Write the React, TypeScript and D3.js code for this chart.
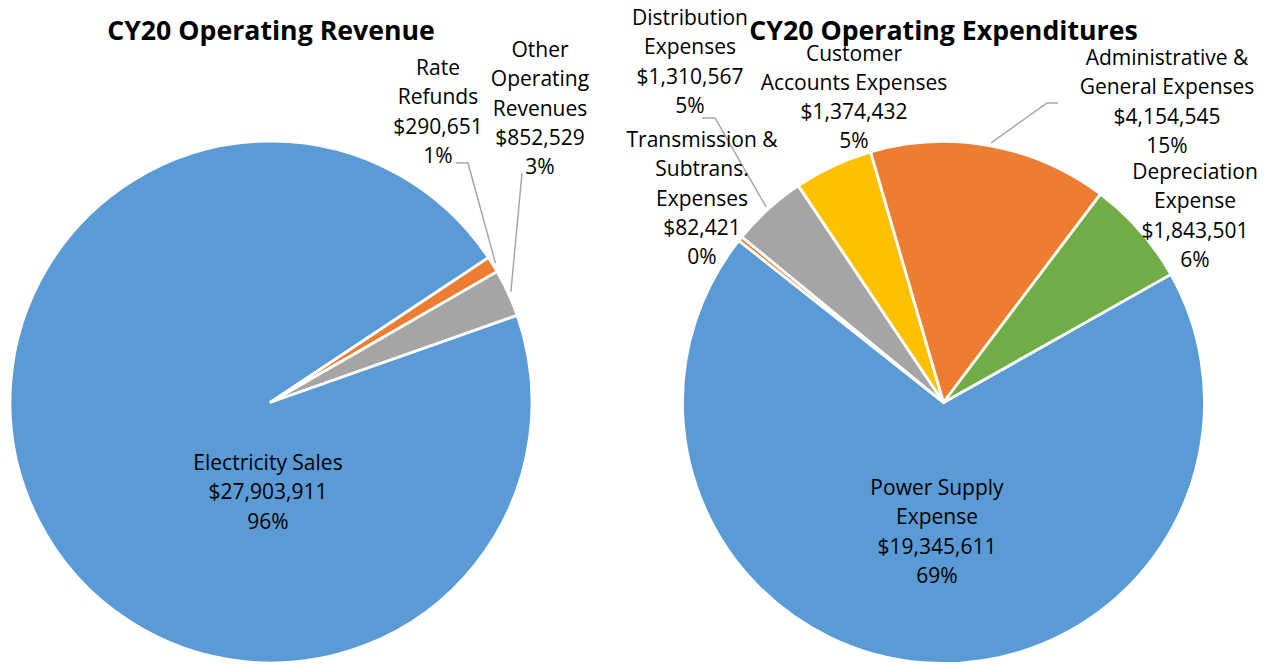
import React from "react";
import * as d3 from "d3";

// ---- Data ----
const revenueCategories = ["Electricity Sales", "Rate\nRefunds", "Other\nOperating\nRevenues"];
const revenueValues = [27903911, 290651, 852529];
const revenuePercents = ["96%", "1%", "3%"];
const revenueColors = ["#5B9BD5", "#ED7D31", "#A5A5A5"];

const expenseCategories = [
  "Power Supply\nExpense",
  "Transmission &\nSubtrans.\nExpenses",
  "Distribution\nExpenses",
  "Customer\nAccounts Expenses",
  "Administrative &\nGeneral Expenses",
  "Depreciation\nExpense",
];
const expenseValues = [19345611, 82421, 1310567, 1374432, 4154545, 1843501];
const expensePercents = ["69%", "0%", "5%", "5%", "15%", "6%"];
const expenseColors = ["#5B9BD5", "#ED7D31", "#A5A5A5", "#FFC000", "#ED7D31", "#70AD47"];

// ---- Layout ----
const W = 1271;
const H = 664;
const R = 261;
const LINE_H = 29.3;
const FONT = "'Open Sans', 'Liberation Sans', sans-serif";

type LabelPos = { x: number; y: number; leader?: [number, number][] };

const revenueLayout = {
  title: "CY20 Operating Revenue",
  cx: 271,
  cy: 402,
  startDeg: 70.6,
  labels: [
    { x: 268, y: 470 },
    { x: 438, y: 75, leader: [[456, 163], [468, 163]] },
    { x: 540, y: 57, leader: [[522, 173]] },
  ] as LabelPos[],
};

const expenseLayout = {
  title: "CY20 Operating Expenditures",
  cx: 943.5,
  cy: 402.5,
  startDeg: 60.6,
  labels: [
    { x: 937, y: 495 },
    { x: 702, y: 147 },
    { x: 690, y: 25, leader: [[702, 118], [715, 118]] },
    { x: 854, y: 60.5 },
    { x: 1167, y: 65, leader: [[1058, 103], [1047, 103]] },
    { x: 1195, y: 179 },
  ] as LabelPos[],
};

const money = d3.format("$,");

function Pie({
  layout,
  categories,
  values,
  percents,
  colors,
}: {
  layout: typeof revenueLayout;
  categories: string[];
  values: number[];
  percents: string[];
  colors: string[];
}) {
  const start = (layout.startDeg * Math.PI) / 180;
  const pie = d3
    .pie<number>()
    .sort(null)
    .value((d) => d)
    .startAngle(start)
    .endAngle(start + 2 * Math.PI);
  const arcs = pie(values);
  const arcGen = d3.arc<d3.PieArcDatum<number>>().innerRadius(0).outerRadius(R);

  return (
    <g>
      <text
        x={layout.cx}
        y={40}
        textAnchor="middle"
        fontFamily={FONT}
        fontWeight="bold"
        fontSize={26.7}
        fill="#000"
      >
        {layout.title}
      </text>
      <g transform={`translate(${layout.cx},${layout.cy})`}>
        {arcs.map((a, i) => (
          <path
            key={i}
            d={arcGen(a) || ""}
            fill={colors[i]}
            stroke="#fff"
            strokeWidth={2.8}
            strokeLinejoin="round"
          />
        ))}
      </g>
      {arcs.map((a, i) => {
        const lp = layout.labels[i];
        if (!lp.leader) return null;
        const mid = (a.startAngle + a.endAngle) / 2;
        const end: [number, number] = [
          layout.cx + (R + 3) * Math.sin(mid),
          layout.cy - (R + 3) * Math.cos(mid),
        ];
        const pts = [...lp.leader, end];
        return (
          <polyline
            key={"l" + i}
            points={pts.map((p) => p.join(",")).join(" ")}
            fill="none"
            stroke="#A6A6A6"
            strokeWidth={1.5}
          />
        );
      })}
      {arcs.map((a, i) => {
        const lp = layout.labels[i];
        const lines = [...categories[i].split("\n"), money(values[i]), percents[i]];
        return (
          <text
            key={"t" + i}
            textAnchor="middle"
            fontFamily={FONT}
            fontSize={21}
            fill="#000"
          >
            {lines.map((ln, j) => (
              <tspan key={j} x={lp.x} y={lp.y + j * LINE_H}>
                {ln}
              </tspan>
            ))}
          </text>
        );
      })}
    </g>
  );
}

export default function App() {
  return (
    <svg
      width={W}
      height={H}
      viewBox={`0 0 ${W} ${H}`}
      style={{ position: "absolute", left: 0, top: 0, background: "#fff" }}
    >
      <rect width={W} height={H} fill="#fff" />
      <Pie
        layout={revenueLayout}
        categories={revenueCategories}
        values={revenueValues}
        percents={revenuePercents}
        colors={revenueColors}
      />
      <Pie
        layout={expenseLayout}
        categories={expenseCategories}
        values={expenseValues}
        percents={expensePercents}
        colors={expenseColors}
      />
    </svg>
  );
}
